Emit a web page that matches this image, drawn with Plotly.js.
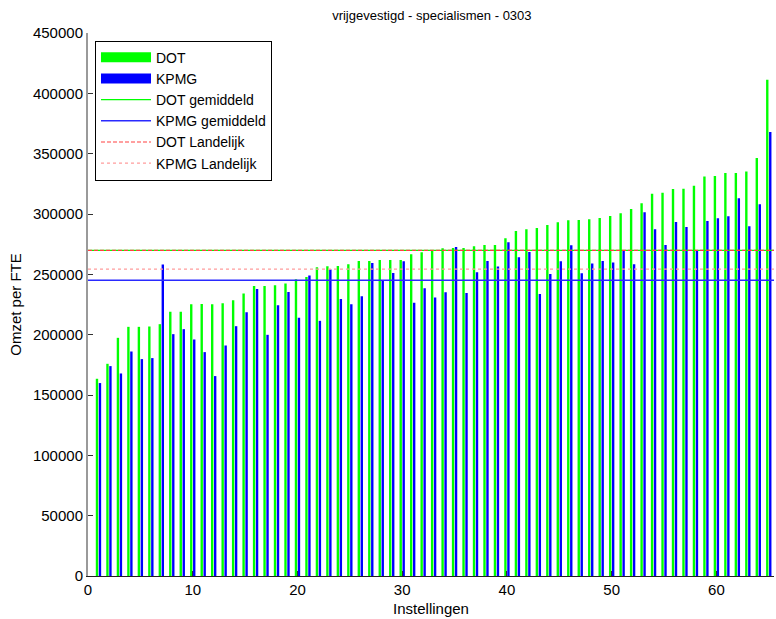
<!DOCTYPE html>
<html>
<head>
<meta charset="utf-8">
<script src="https://cdn.plot.ly/plotly-3.0.1.min.js"></script>
<style>html,body{margin:0;padding:0;background:#fff;}#chart{width:776px;height:619px;}</style>
</head>
<body>
<div id="chart"></div>
<script>
// Category indices (Instellingen)
const instellingen = [];
for (let i = 1; i <= 65; i++) instellingen.push(i);

// DOT omzet per FTE
const dotValues = [
  163450, 175860, 197380, 206490, 206490, 206770, 208700, 218900, 218900, 225240,
  225400, 225270, 226100, 228580, 234100, 240420, 240420, 240970, 242350, 245930,
  247860, 255860, 256690, 256970, 258350, 261110, 261110, 261940, 261940, 261940,
  266630, 268280, 269930, 271580, 271870, 271870, 273250, 274350, 274350, 279870,
  285940, 287320, 288300, 290900, 293100, 294790, 295030, 295590, 296690, 298350,
  300560, 304140, 308830, 316830, 317670, 320700, 320980, 323460, 331180, 331450,
  333940, 333940, 335320, 346350, 411180
];

// KPMG omzet per FTE
const kpmgValues = [
  159900, 173950, 167840, 186050, 179750, 180580, 258060, 200420, 204560, 196000,
  185540, 165680, 191030, 207030, 218620, 237940, 199870, 224410, 235450, 213940,
  248970, 211450, 253930, 229660, 225240, 231860, 259450, 244830, 251170, 260830,
  226350, 238490, 230760, 235180, 272690, 234620, 251720, 261110, 256420, 276560,
  264140, 268560, 233800, 250350, 260830, 274070, 250900, 258900, 261110, 259720,
  270210, 258350, 301390, 287320, 274350, 293380, 289240, 269380, 294210, 296420,
  298070, 312970, 289790, 307990, 367870
];

// Reference levels
const dotGemiddeld = 269800;
const kpmgGemiddeld = 245100;
const dotLandelijk = 269800;
const kpmgLandelijk = 254300;

// Axis extents
const xRange = [0, 65.5];
const yTicks = [0, 50000, 100000, 150000, 200000, 250000, 300000, 350000, 400000, 450000];
const xTicks = [0, 10, 20, 30, 40, 50, 60];

const FONT = 'Liberation Sans, Arial, Helvetica, sans-serif';
const GREEN = '#00ff00';
const BLUE = '#0000ff';

const traces = [
  {type: 'bar', name: 'DOT', x: instellingen, y: dotValues, legendgroup: 'dot', showlegend: false,
   marker: {color: GREEN, line: {width: 0}}},
  {type: 'bar', name: 'KPMG', x: instellingen, y: kpmgValues, legendgroup: 'kpmg', showlegend: false,
   marker: {color: BLUE, line: {width: 0}}},
  // legend swatches for the bar series (draw nothing on the plot)
  {type: 'scatter', mode: 'lines', name: 'DOT', legendgroup: 'dot', x: [null], y: [null],
   line: {color: GREEN, width: 10}, hoverinfo: 'skip'},
  {type: 'scatter', mode: 'lines', name: 'KPMG', legendgroup: 'kpmg', x: [null], y: [null],
   line: {color: BLUE, width: 10}, hoverinfo: 'skip'},
  {type: 'scatter', mode: 'lines', name: 'DOT gemiddeld', x: xRange, y: [dotGemiddeld, dotGemiddeld],
   line: {color: GREEN, width: 1.2}},
  {type: 'scatter', mode: 'lines', name: 'KPMG gemiddeld', x: xRange, y: [kpmgGemiddeld, kpmgGemiddeld],
   line: {color: '#2a2aff', width: 1.4}},
  {type: 'scatter', mode: 'lines', name: 'DOT Landelijk', x: xRange, y: [dotLandelijk, dotLandelijk],
   line: {color: '#ff4040', width: 1.2, dash: '4px,2px'}},
  {type: 'scatter', mode: 'lines', name: 'KPMG Landelijk', x: xRange, y: [kpmgLandelijk, kpmgLandelijk],
   line: {color: '#ff9c9c', width: 1.2, dash: 'dot'}}
];

const layout = {
  width: 776, height: 619,
  paper_bgcolor: '#ffffff', plot_bgcolor: '#ffffff',
  margin: {l: 88, r: 1.5, t: 33, b: 42.5, pad: 0},
  font: {family: FONT, size: 15, color: '#000'},
  title: {text: 'vrijgevestigd - specialismen - 0303', font: {family: FONT, size: 13, color: '#000'},
          x: 0.5565, xanchor: 'center', y: 0.975, yanchor: 'middle'},
  barmode: 'group', bargap: 0.43, bargroupgap: 0.2,
  showlegend: true,
  legend: {x: 0.0102, y: 0.986, xanchor: 'left', yanchor: 'top', bgcolor: '#ffffff',
           bordercolor: '#000000', borderwidth: 1, font: {family: FONT, size: 14, color: '#000'},
           itemwidth: 50, traceorder: 'normal', tracegroupgap: 0},
  xaxis: {range: xRange, tickvals: xTicks, ticktext: xTicks.map(String), ticks: 'inside', ticklen: 5,
          tickcolor: '#333', showgrid: false, zeroline: false, showline: true, linecolor: '#222', linewidth: 1,
          tickfont: {family: FONT, size: 15},
          title: {text: 'Instellingen', font: {family: FONT, size: 15}, standoff: 6}},
  yaxis: {range: [0, 450000], tickvals: yTicks, ticktext: yTicks.map(String), ticks: 'inside', ticklen: 5,
          tickcolor: '#333', showgrid: false, zeroline: false, showline: true, linecolor: '#9a9a9a', linewidth: 2,
          tickfont: {family: FONT, size: 15},
          title: {text: 'Omzet per FTE', font: {family: FONT, size: 15}, standoff: 8}}
};

Plotly.newPlot('chart', traces, layout, {displayModeBar: false, staticPlot: true});
</script>
</body>
</html>
